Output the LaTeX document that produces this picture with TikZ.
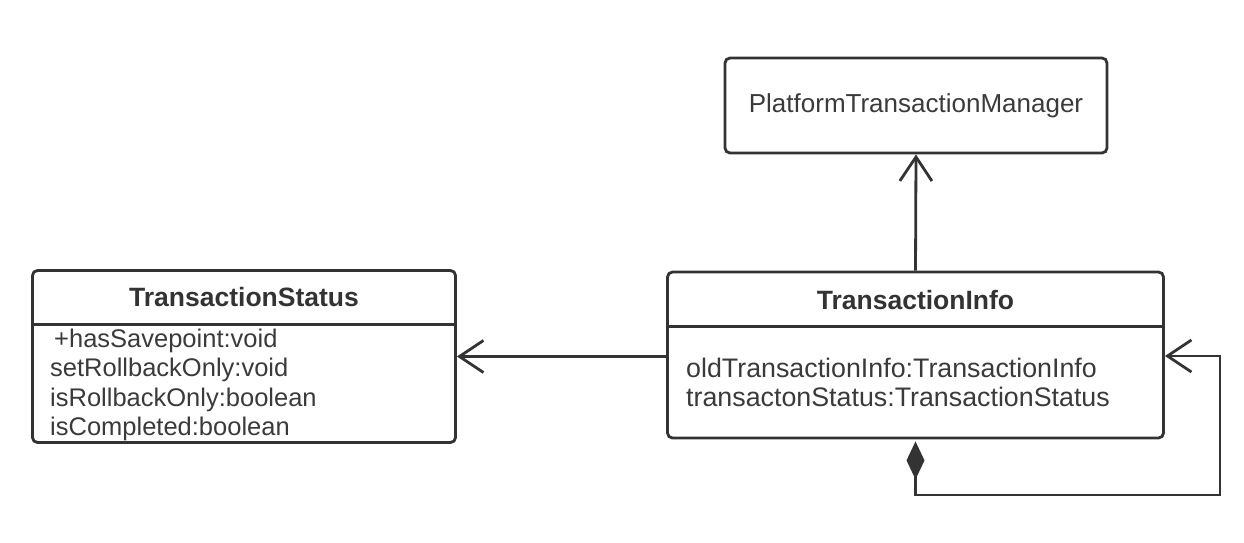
\documentclass[tikz,border=0pt]{standalone}
\usepackage{fontspec}
\setmainfont{Liberation Sans}
\usetikzlibrary{arrows.meta}
\definecolor{ink}{HTML}{333333}
\definecolor{txt}{HTML}{3A3A3A}
\tikzset{
  umlbox/.style={draw=ink, line width=2.8pt, rounded corners=5pt, inner sep=0pt},
  divider/.style={draw=ink, line width=2.8pt},
  conn/.style={draw=ink, line width=2.8pt},
  barb/.tip={Straight Barb[length=24pt,width=32pt]},
  titletext/.style={text=ink, font=\fontsize{26.5}{30}\selectfont\bfseries, inner sep=0pt},
  attrtext/.style={text=txt, font=\fontsize{25.5}{29}\selectfont, inner sep=0pt, anchor=base west},
  attrwide/.style={attrtext, font=\fontsize{26.8}{29}\selectfont},
}
\begin{document}
\begin{tikzpicture}[x=1pt,y=-1pt]
\useasboundingbox (0,0) rectangle (1244,542);

% boxes
\node[umlbox, minimum width=382pt, minimum height=95pt, text=txt,
      font=\fontsize{26}{30}\selectfont] (ptm) at (916,105.5) {PlatformTransactionManager};
\node[umlbox, minimum width=423pt, minimum height=172pt] (ts) at (244,356.5) {};
\node[umlbox, minimum width=496pt, minimum height=166pt] (ti) at (915.5,355) {};

% dividers
\coordinate (tsdiv) at (244,324.5);
\draw[divider] (tsdiv -| ts.west) -- (tsdiv -| ts.east);
\coordinate (tidiv) at (915.5,326.5);
\draw[divider] (tidiv -| ti.west) -- (tidiv -| ti.east);

% TransactionStatus texts
\node[titletext] (tstitle) at (244,297) {TransactionStatus};
\node[attrtext] (ts1) at (54,347) {+hasSavepoint:void};
\node[attrtext] (ts2) at (50,376.5) {setRollbackOnly:void};
\node[attrtext] (ts3) at (50,406) {isRollbackOnly:boolean};
\node[attrtext] (ts4) at (50,435) {isCompleted:boolean};

% TransactionInfo texts
\node[titletext] (tititle) at (915.5,300) {TransactionInfo};
\node[attrwide] (ti1) at (686,377) {oldTransactionInfo:TransactionInfo};
\node[attrwide] (ti2) at (686,406) {transactonStatus:TransactionStatus};

% connectors
\draw[conn, -barb] (ti.north) -- (ptm.south);
\draw[conn, -barb] (ti.west |- ts.east) -- (ts.east);
\coordinate (loopA) at (1220,495);
\coordinate (loopB) at (1220,356);
\draw[conn, {Diamond[length=38pt,width=18pt]}-barb]
  ([yshift=-2pt]ti.south) |- (loopA) -- (loopB) -- (loopB -| ti.east);
\end{tikzpicture}
\end{document}
